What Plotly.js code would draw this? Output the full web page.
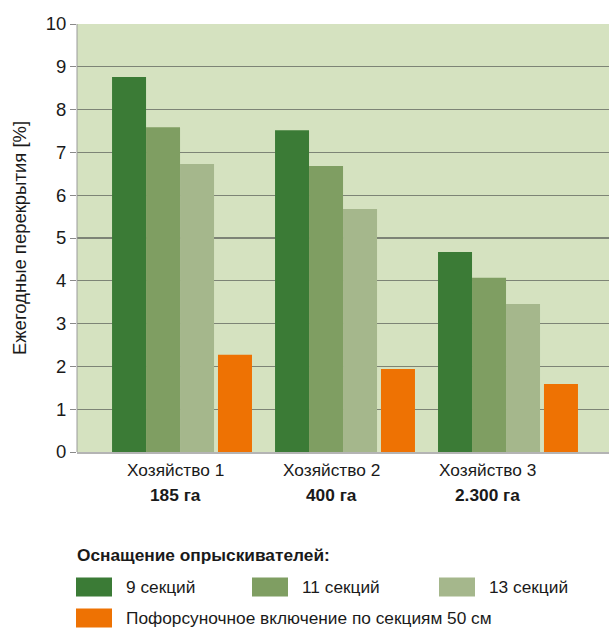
<!DOCTYPE html>
<html>
<head>
<meta charset="utf-8">
<script src="https://cdn.plot.ly/plotly-3.0.1.min.js"></script>
<style>html,body{margin:0;padding:0;background:#fff;}#chart{width:609px;height:628px;}</style>
</head>
<body>
<div id="chart"></div>
<script>
// ---- data ----
var farms = ["Хозяйство 1", "Хозяйство 2", "Хозяйство 3"];
var areas = ["185 га", "400 га", "2.300 га"];
var seriesNames = ["9 секций", "11 секций", "13 секций", "Пофорсуночное включение по секциям 50 см"];
var sec9 = [8.76, 7.52, 4.67];
var sec11 = [7.59, 6.68, 4.07];
var sec13 = [6.73, 5.68, 3.46];
var nozzle = [2.27, 1.94, 1.59];
var legendTitle = "Оснащение опрыскивателей:";
var yTitle = "Ежегодные перекрытия [%]";

// ---- styles ----
var colors = ["#3b7b36", "#7f9e62", "#a5b78c", "#ee7203"];
var W = 0.2086;
var offsets = [-0.429, -0.2204, -0.0118, 0.221];
var values = [sec9, sec11, sec13, nozzle];
var FONT = "'Liberation Sans', Arial, sans-serif";

var traces = values.map(function (v, i) {
  return {
    type: "bar",
    x: farms,
    y: v,
    name: seriesNames[i],
    marker: { color: colors[i], line: { width: 0 } },
    width: W,
    offset: offsets[i],
    showlegend: false,
    hoverinfo: "y"
  };
});

var L = 77, R = 609, T = 24, B = 452, H = 628, WW = 609;
function px(x) { return (x - L) / (R - L); }
function py(y) { return (H - y - (H - B)) / (B - T); }

var annotations = [];
var labelX = [175, 331, 487];
farms.forEach(function (f, i) {
  annotations.push({ xref: "paper", yref: "paper", x: px(labelX[i]), y: py(470), text: f,
    showarrow: false, xanchor: "center", yanchor: "middle", font: { family: FONT, size: 17.3, color: "#1a1a1a" } });
  annotations.push({ xref: "paper", yref: "paper", x: px(labelX[i]), y: py(495), text: "<b>" + areas[i] + "</b>",
    showarrow: false, xanchor: "center", yanchor: "middle", font: { family: FONT, size: 17.3, color: "#1a1a1a" } });
});
annotations.push({ xref: "paper", yref: "paper", x: px(75), y: py(555), text: "<b>" + legendTitle + "</b>",
  showarrow: false, xanchor: "left", yanchor: "middle", font: { family: FONT, size: 17.3, color: "#1a1a1a" } });

var shapes = [];
var leg = [
  { sx: 76, tx: 124, y: 587 },
  { sx: 252, tx: 300, y: 587 },
  { sx: 439, tx: 487, y: 587 },
  { sx: 76, tx: 124, y: 618 }
];
leg.forEach(function (p, i) {
  shapes.push({ type: "rect", xref: "paper", yref: "paper", x0: px(p.sx), x1: px(p.sx + 36),
    y0: py(p.y - 9.5), y1: py(p.y + 9.5), fillcolor: colors[i], line: { width: 0 } });
  annotations.push({ xref: "paper", yref: "paper", x: px(p.tx), y: py(p.y), text: seriesNames[i],
    showarrow: false, xanchor: "left", yanchor: "middle", font: { family: FONT, size: 17.3, color: "#1a1a1a" } });
});
// left border of plot area
shapes.push({ type: "line", xref: "paper", yref: "paper", x0: 0, x1: 0, y0: 0, y1: 1, line: { color: "#9a9a9a", width: 1 } });

var layout = {
  width: WW, height: H,
  margin: { l: L, r: WW - R, t: T, b: H - B, pad: 0 },
  paper_bgcolor: "#ffffff",
  plot_bgcolor: "#d5e2c0",
  barmode: "overlay",
  showlegend: false,
  xaxis: {
    type: "category",
    range: [-0.644, 2.62],
    showticklabels: false,
    ticks: "",
    showgrid: false,
    zeroline: false,
    showline: true,
    linecolor: "#b4b4b4",
    linewidth: 1.5,
    fixedrange: true
  },
  yaxis: {
    range: [0, 10],
    dtick: 1,
    tick0: 0,
    ticks: "outside",
    ticklen: 6,
    tickcolor: "#8a8a8a",
    tickwidth: 1,
    showgrid: true,
    gridcolor: "#7d8476",
    gridwidth: 1.3,
    zeroline: false,
    showline: false,
    tickfont: { family: FONT, size: 18.5, color: "#1a1a1a" },
    title: { text: yTitle, font: { family: FONT, size: 18.5, color: "#1a1a1a" }, standoff: 14 },
    fixedrange: true
  },
  annotations: annotations,
  shapes: shapes
};

Plotly.newPlot("chart", traces, layout, { displayModeBar: false, staticPlot: true });
</script>
</body>
</html>
